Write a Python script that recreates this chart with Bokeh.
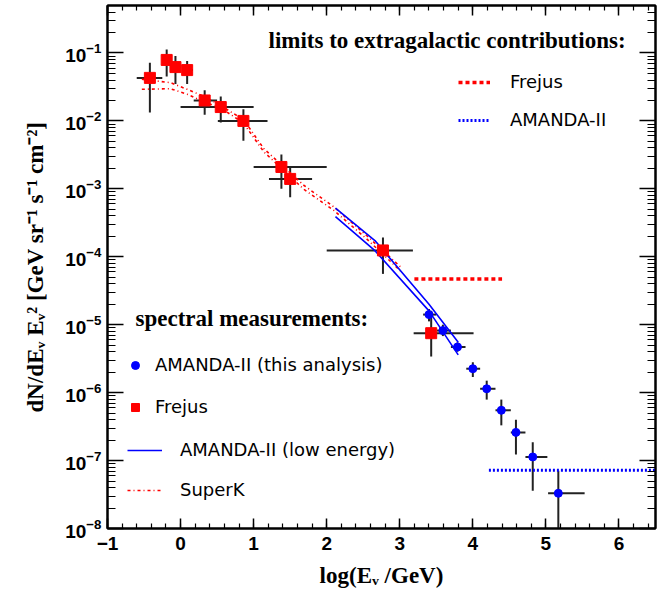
import numpy as np
from bokeh.plotting import figure
from bokeh.models import (Range1d, LinearAxis, LogAxis, Legend, LegendItem, Label,
                          FixedTicker, SingleIntervalTicker, CustomJSTickFormatter)
from bokeh.core.properties import value
from bokeh.embed import file_html
from bokeh.resources import INLINE

# ---- Frejus measurements: log10(E/GeV) with bin edges, flux with error range
frejus_logE    = [-0.42, -0.19, -0.07, 0.09, 0.33, 0.55, 0.86, 1.38, 1.50, 2.77, 3.43]
frejus_logE_lo = [-0.60, -0.24, -0.12, 0.02, 0.18, 0.00, 0.51, 1.00, 1.21, 2.00, 3.19]
frejus_logE_hi = [-0.25, -0.14, 0.00, 0.17, 0.50, 1.00, 1.19, 2.00, 1.80, 3.18, 4.01]
frejus_flux    = [4.3e-2, 7.9e-2, 6.2e-2, 5.6e-2, 2.0e-2, 1.6e-2, 1.0e-2, 2.1e-3, 1.4e-3, 1.24e-4, 7.5e-6]
frejus_flux_lo = [1.33e-2, 4.5e-2, 3.5e-2, 3.5e-2, 1.23e-2, 9.5e-3, 5.1e-3, 1.0e-3, 7.5e-4, 5.6e-5, 3.4e-6]
frejus_flux_hi = [7.2e-2, 1.13e-1, 9.0e-2, 7.6e-2, 2.83e-2, 2.28e-2, 1.48e-2, 3.2e-3, 2.06e-3, 1.93e-4, 1.6e-5]

# ---- AMANDA-II (this analysis)
amanda_logE    = [3.40, 3.59, 3.79, 4.00, 4.19, 4.39, 4.59, 4.82, 5.17]
amanda_logE_lo = [3.32, 3.51, 3.70, 3.91, 4.10, 4.31, 4.52, 4.72, 5.03]
amanda_logE_hi = [3.50, 3.70, 3.90, 4.10, 4.31, 4.52, 4.72, 5.02, 5.53]
amanda_flux    = [1.41e-5, 8.2e-6, 4.7e-6, 2.25e-6, 1.14e-6, 5.5e-7, 2.6e-7, 1.13e-7, 3.3e-8]
amanda_flux_lo = [1.12e-5, 6.8e-6, 4.0e-6, 1.7e-6, 7.9e-7, 3.3e-7, 1.23e-7, 3.6e-8, 5e-9]
amanda_flux_hi = [1.7e-5, 1.0e-5, 5.5e-6, 2.8e-6, 1.5e-6, 7.9e-7, 4.0e-7, 1.86e-7, 7.1e-8]

# ---- AMANDA-II low energy band (two boundary curves)
amle_logE     = [2.12, 2.66, 3.40, 3.80]
amle_upper    = [5.2e-4, 1.73e-4, 2.0e-5, 5.5e-6]
amle_lower    = [3.9e-4, 1.23e-4, 1.6e-5, 3.6e-6]

# ---- SuperK band (two boundary curves)
superk_logE   = [-0.53, -0.14, 0.09, 0.34, 0.54, 0.86, 1.14, 1.69, 2.10, 2.55, 3.01]
superk_upper  = [4.1e-2, 3.66e-2, 2.92e-2, 2.25e-2, 1.70e-2, 1.05e-2, 3.9e-3, 1.12e-3, 5.4e-4, 2.04e-4, 7.1e-5]
superk_lower  = [2.92e-2, 2.98e-2, 2.47e-2, 1.86e-2, 1.58e-2, 9.3e-3, 3.5e-3, 9.8e-4, 4.8e-4, 1.82e-4, 6.2e-5]

# ---- limits to extragalactic contributions
frejus_lim_logE = [3.2, 4.4]
frejus_lim_flux = [4.7e-5, 4.7e-5]
amanda_lim_logE = [4.22, 6.5]
amanda_lim_flux = [7.2e-8, 7.2e-8]

y_decades = [1e-8, 1e-7, 1e-6, 1e-5, 1e-4, 1e-3, 1e-2, 1e-1]
y_minor = [m * d for d in [1e-9] + y_decades for m in range(2, 10)]

p = figure(width=670, height=593, x_range=Range1d(-1, 6.5), y_range=Range1d(1e-8, 0.5),
           y_axis_type="log", output_backend="svg", toolbar_location=None,
           min_border_left=107, min_border_right=15, min_border_top=5, min_border_bottom=65)
p.grid.visible = False
p.outline_line_color = "black"
p.outline_line_width = 2
p.background_fill_color = "white"
p.border_fill_color = "white"

xt = SingleIntervalTicker(interval=1, num_minor_ticks=5)
yt = FixedTicker(ticks=y_decades, minor_ticks=y_minor)
p.xaxis.ticker = xt
p.yaxis.ticker = yt

def style_axis(ax, long_in, short_in):
    ax.axis_line_width = 2
    ax.major_tick_in = long_in
    ax.major_tick_out = 0
    ax.minor_tick_in = short_in
    ax.minor_tick_out = 0
    ax.major_tick_line_width = 1.5
    ax.minor_tick_line_width = 1.2
    ax.major_label_text_font = "Liberation Sans"
    ax.major_label_text_font_style = "bold"
    ax.major_label_text_font_size = "19px"
    ax.major_label_text_color = "black"
    ax.axis_label_text_font = "Liberation Serif"
    ax.axis_label_text_font_style = "bold"
    ax.axis_label_text_font_size = "23px"
    ax.axis_label_text_color = "black"

for ax in p.xaxis:
    style_axis(ax, 10, 5)
    ax.axis_label = "log(E\u1d65 /GeV)"
    ax.major_label_standoff = 8
    ax.axis_label_standoff = 10
for ax in p.yaxis:
    style_axis(ax, 16, 8)
    ax.axis_label = "dN/dE\u1d65 E\u1d65\u00b2 [GeV sr\u207b\u00b9 s\u207b\u00b9 cm\u207b\u00b2]"
    ax.major_label_standoff = 6
    ax.axis_label_standoff = 14

blank = CustomJSTickFormatter(code="return ''")
top = LinearAxis(ticker=xt, formatter=blank)
style_axis(top, 10, 5)
p.add_layout(top, "above")
right = LogAxis(ticker=yt, formatter=blank)
style_axis(right, 16, 8)
p.add_layout(right, "right")

# error bars
p.segment(x0=frejus_logE_lo, y0=frejus_flux, x1=frejus_logE_hi, y1=frejus_flux, line_color="#222222", line_width=2)
p.segment(x0=frejus_logE, y0=frejus_flux_lo, x1=frejus_logE, y1=frejus_flux_hi, line_color="#222222", line_width=2)
p.segment(x0=amanda_logE_lo, y0=amanda_flux, x1=amanda_logE_hi, y1=amanda_flux, line_color="#222222", line_width=2)
p.segment(x0=amanda_logE, y0=amanda_flux_lo, x1=amanda_logE, y1=amanda_flux_hi, line_color="#222222", line_width=2)

# bands
sk1 = p.line(superk_logE, superk_upper, line_color="red", line_width=1.6, line_dash="3 3 1 3")
p.line(superk_logE, superk_lower, line_color="red", line_width=1.6, line_dash="3 3 1 3")
le1 = p.line(amle_logE, amle_upper, line_color="blue", line_width=1.6)
p.line(amle_logE, amle_lower, line_color="blue", line_width=1.6)

# limits
fl = p.line(frejus_lim_logE, frejus_lim_flux, line_color="red", line_width=3.5, line_dash="4 3")
al = p.line(amanda_lim_logE, amanda_lim_flux, line_color="blue", line_width=3, line_dash="2 2")

# markers
fm = p.scatter(frejus_logE, frejus_flux, marker="square", size=11, color="red")
am = p.scatter(amanda_logE, amanda_flux, marker="circle", size=8, color="blue")

def mk_legend(items, loc, glyph_w, standoff, spacing):
    lg = Legend(items=items, location=loc, padding=0, margin=0, glyph_width=glyph_w,
                glyph_height=20, label_height=20, label_standoff=standoff, spacing=spacing,
                border_line_color=None, background_fill_alpha=0,
                label_text_font="DejaVu Sans", label_text_font_size="18px",
                label_text_color="black")
    p.add_layout(lg, "center")
    return lg

mk_legend([LegendItem(label="Frejus", renderers=[fl]), LegendItem(label="AMANDA-II", renderers=[al])],
          (351, 398), 32, 20, 17)
mk_legend([LegendItem(label="AMANDA-II (this analysis)", renderers=[am]), LegendItem(label="Frejus", renderers=[fm])],
          (18, 111), 20, 10, 21)
mk_legend([LegendItem(label="AMANDA-II (low energy)", renderers=[le1]), LegendItem(label="SuperK", renderers=[sk1])],
          (20, 28), 35, 18, 19)

p.add_layout(Label(x=161, y=488, x_units="screen", y_units="screen", text="limits to extragalactic contributions:",
                   text_font="Liberation Serif", text_font_style="bold", text_font_size="23px",
                   text_baseline="middle", text_color="black"))
p.add_layout(Label(x=28, y=210, x_units="screen", y_units="screen", text="spectral measurements:",
                   text_font="Liberation Serif", text_font_style="bold", text_font_size="23px",
                   text_baseline="middle", text_color="black"))

open("out.html", "w").write(file_html(p, INLINE))
